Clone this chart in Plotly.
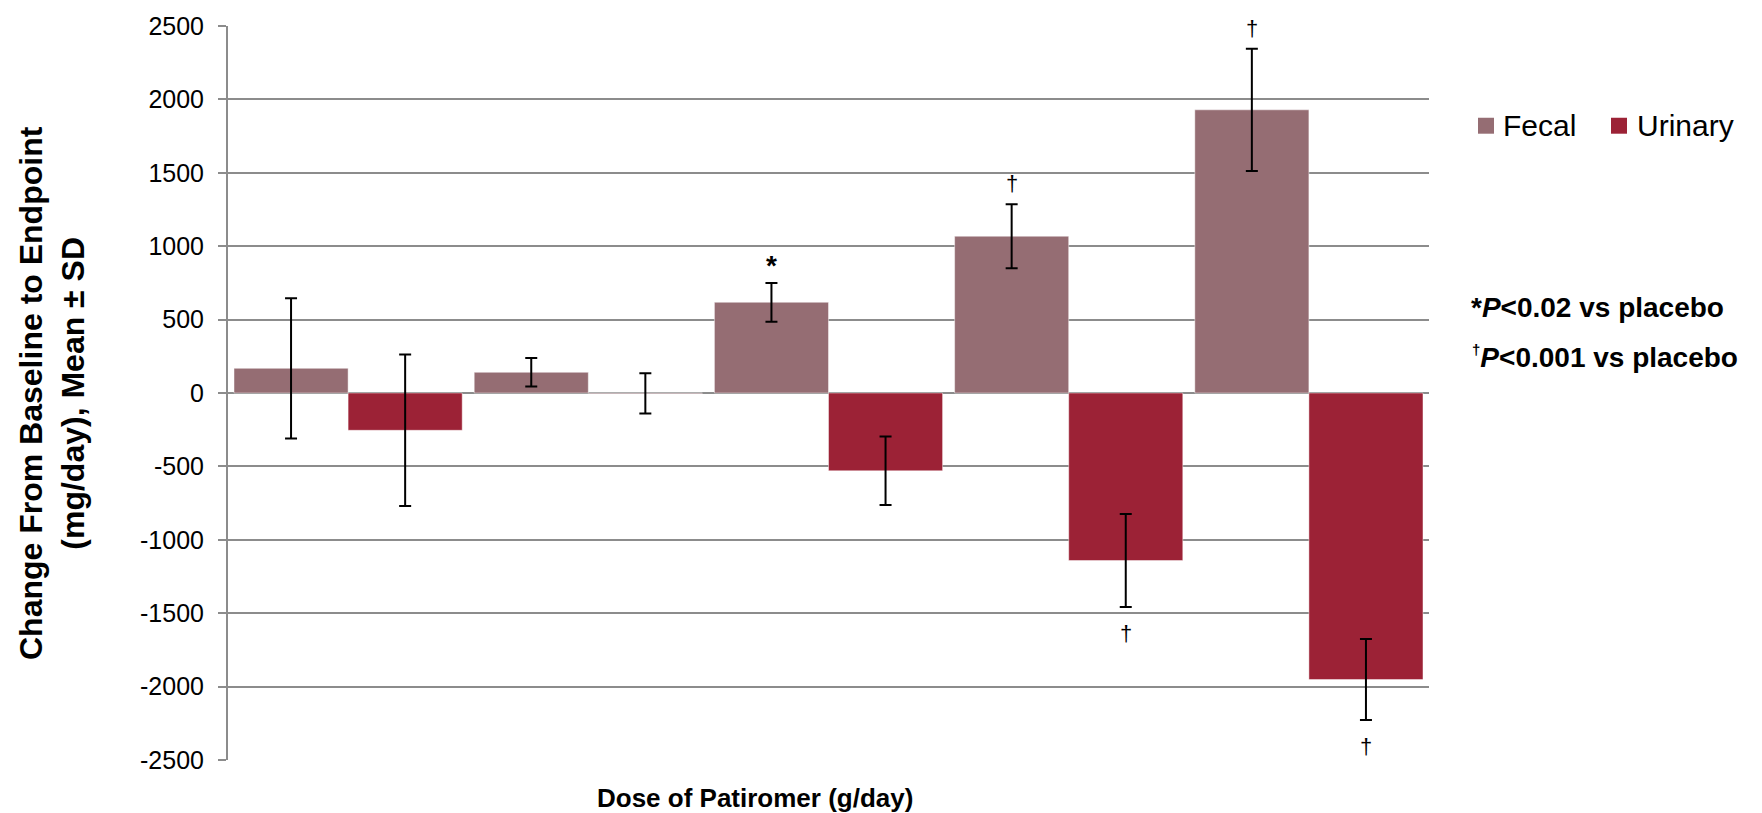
import plotly.graph_objects as go

# ---- data ----
categories = ["Placebo", "Dose 1", "Dose 2", "Dose 3", "Dose 4"]
fecal_mean = [168, 141, 618, 1068, 1929]
fecal_sd = [478, 97, 132, 218, 416]
urinary_mean = [-254, -2, -530, -1141, -1952]
urinary_sd = [516, 137, 233, 317, 276]
fecal_sig = ["", "", "*", "\u2020", "\u2020"]
urinary_sig = ["", "", "", "\u2020", "\u2020"]
series_names = ["Fecal", "Urinary"]
y_ticks = [-2500, -2000, -1500, -1000, -500, 0, 500, 1000, 1500, 2000, 2500]

FONT = "Liberation Sans, Arial, sans-serif"
FECAL_C = "#956D73"
URIN_C = "#9C2236"
GRID_C = "#8C8C8C"
BARGAP = 0.05

W, H = 1762, 813
ML, MR, MT, MB = 228, 333, 24, 53
PW, PH = W - ML - MR, H - MT - MB


def px_x(p):  # pixel -> paper x
    return (p - ML) / PW


def px_y(p):  # pixel -> paper y
    return (H - MB - p) / PH


x_idx = list(range(len(categories)))
half = (1 - BARGAP) / 4  # centre offset of each bar within its group

fig = go.Figure()
fig.add_trace(go.Bar(
    x=x_idx, y=fecal_mean, name=series_names[0], marker_color=FECAL_C,
    marker_line=dict(color="rgba(255,255,255,0.45)", width=1),
    error_y=dict(type="data", array=fecal_sd, visible=True, color="black", thickness=2, width=6),
    showlegend=False,
))
fig.add_trace(go.Bar(
    x=x_idx, y=urinary_mean, name=series_names[1], marker_color=URIN_C,
    marker_line=dict(color="rgba(255,255,255,0.45)", width=1),
    error_y=dict(type="data", array=urinary_sd, visible=True, color="black", thickness=2, width=6),
    showlegend=False,
))

annotations = []
shapes = []
# significance marks
for i in x_idx:
    if fecal_sig[i]:
        is_star = fecal_sig[i] == "*"
        annotations.append(dict(
            x=i - half, y=fecal_mean[i] + fecal_sd[i], xref="x", yref="y",
            text=("<b>*</b>" if is_star else fecal_sig[i]), showarrow=False,
            yanchor="bottom", yshift=(0 if is_star else 6),
            font=dict(family=FONT, size=(28 if is_star else 22), color="black")))
    if urinary_sig[i]:
        annotations.append(dict(
            x=i + half, y=urinary_mean[i] - urinary_sd[i], xref="x", yref="y",
            text=urinary_sig[i], showarrow=False, yanchor="top", yshift=-12,
            font=dict(family=FONT, size=22, color="black")))

# legend (drawn manually so the plot area is not shrunk)
legend_items = [(series_names[0], FECAL_C, 1478, 1501), (series_names[1], URIN_C, 1611, 1635)]
for nm, col, sq_x, tx_x in legend_items:
    shapes.append(dict(type="rect", xref="paper", yref="paper",
                       x0=px_x(sq_x), x1=px_x(sq_x + 16), y0=px_y(132), y1=px_y(116),
                       fillcolor=col, line=dict(width=0)))
    annotations.append(dict(x=px_x(tx_x), y=px_y(124), xref="paper", yref="paper",
                            xanchor="left", yanchor="middle", text=nm, showarrow=False,
                            font=dict(family=FONT, size=30, color="black")))

# y-axis title
annotations.append(dict(
    x=px_x(52), y=0.5, xref="paper", yref="paper", textangle=-90,
    text="<b>Change From Baseline to Endpoint<br>(mg/day), Mean \u00b1 SD</b>",
    showarrow=False, xanchor="center", yanchor="middle",
    font=dict(family=FONT, size=32, color="black")))
# x-axis title
annotations.append(dict(
    x=px_x(755), y=px_y(798), xref="paper", yref="paper",
    text="<b>Dose of Patiromer (g/day)</b>", showarrow=False,
    xanchor="center", yanchor="middle",
    font=dict(family=FONT, size=26, color="black")))
# p-value notes
annotations.append(dict(
    x=px_x(1469), y=px_y(306), xref="paper", yref="paper", xanchor="left", yanchor="middle",
    text="<b>*<i>P</i>&lt;0.02 vs placebo</b>", showarrow=False,
    font=dict(family=FONT, size=28, color="black")))
annotations.append(dict(
    x=px_x(1470), y=px_y(356), xref="paper", yref="paper", xanchor="left", yanchor="middle",
    text="<b><sup><span style='font-size:15px'>\u2020</span></sup><i>P</i>&lt;0.001 vs placebo</b>",
    showarrow=False, font=dict(family=FONT, size=28, color="black")))

fig.update_layout(
    width=W, height=H,
    margin=dict(l=ML, r=MR, t=MT, b=MB, pad=0),
    paper_bgcolor="white", plot_bgcolor="white",
    barmode="group", bargap=BARGAP, bargroupgap=0,
    font=dict(family=FONT, color="black"),
    showlegend=False,
    annotations=annotations,
    shapes=shapes,
)
fig.update_xaxes(
    range=[-0.5, len(categories) - 0.5], showticklabels=False, showgrid=False,
    zeroline=False, showline=False, ticks="",
)
fig.update_yaxes(
    range=[-2500, 2500], tickvals=y_ticks, ticktext=[str(v) for v in y_ticks],
    showgrid=True, gridcolor=GRID_C, gridwidth=1.5,
    zeroline=False, showline=True, linecolor=GRID_C, linewidth=2,
    ticks="outside", ticklen=8, tickcolor=GRID_C, tickwidth=1.5,
    tickfont=dict(family=FONT, size=25, color="black"),
    ticklabelstandoff=9,
)

fig.write_html("out.html")
